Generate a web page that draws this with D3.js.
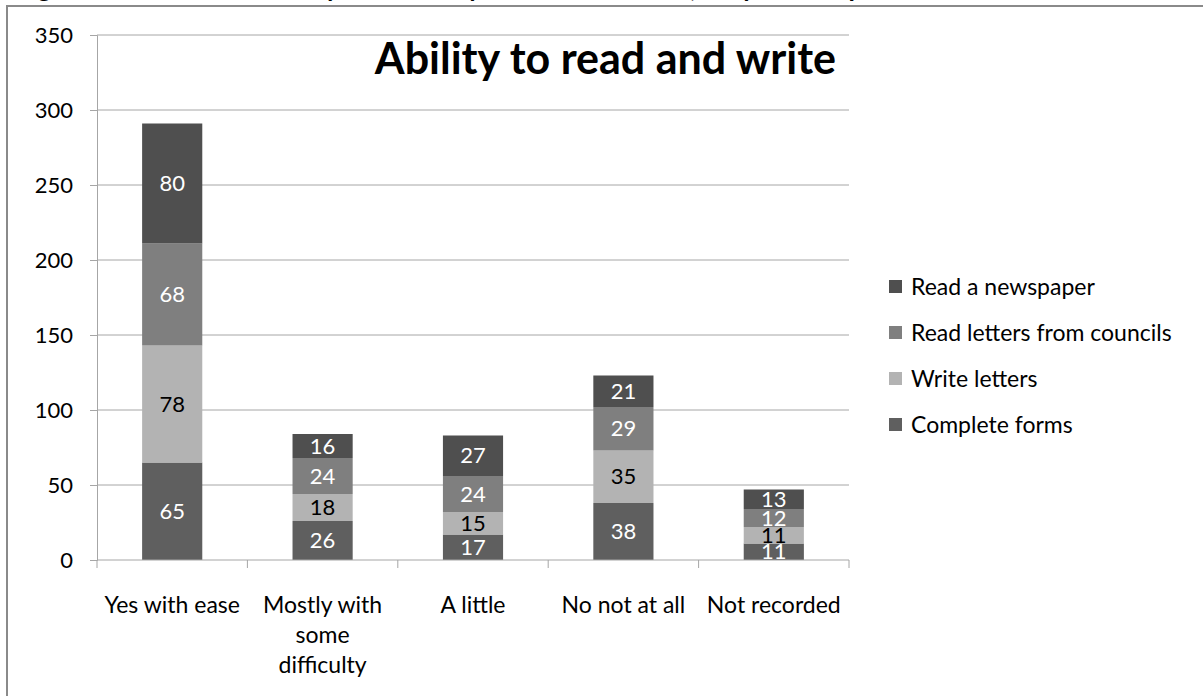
<!DOCTYPE html>
<html>
<head>
<meta charset="utf-8">
<script src="https://cdn.jsdelivr.net/npm/d3@7"></script>
<style>
  html, body { margin: 0; padding: 0; background: #fff; }
  svg { display: block; font-family: Lato, "Open Sans", sans-serif; }
</style>
</head>
<body>
<svg id="chart" width="1203" height="696"></svg>
<script>
// ---- Data ----
const categories = ["Yes with ease", "Mostly with some difficulty", "A little", "No not at all", "Not recorded"];
const categoryLines = [["Yes with ease"], ["Mostly with", "some", "difficulty"], ["A little"], ["No not at all"], ["Not recorded"]];
const seriesNames = ["Complete forms", "Write letters", "Read letters from councils", "Read a newspaper"];
const completeForms = [65, 26, 17, 38, 11];
const writeLetters = [78, 18, 15, 35, 11];
const readLetters = [68, 24, 24, 29, 12];
const readNewspaper = [80, 16, 27, 21, 13];
const yTicks = [0, 50, 100, 150, 200, 250, 300, 350];
const chartTitle = "Ability to read and write";
const figureCaption = "Figure 8: Literacy ability of clients, by sample";

// ---- Styles ----
const colors = {
  "Complete forms": "#5f5f5f",
  "Write letters": "#b3b3b3",
  "Read letters from councils": "#7f7f7f",
  "Read a newspaper": "#4f4f4f"
};
const labelColors = {
  "Complete forms": "#fff",
  "Write letters": "#000",
  "Read letters from councils": "#fff",
  "Read a newspaper": "#fff"
};

const svg = d3.select("#chart");

// clipped caption at very top (only descenders visible)
svg.append("text")
  .attr("x", 0).attr("y", -3)
  .attr("font-size", 26).attr("font-weight", "bold")
  .attr("fill", "#000")
  .attr("textLength", 900)
  .text(figureCaption);

// outer frame
svg.append("rect")
  .attr("x", 7).attr("y", 6)
  .attr("width", 1220).attr("height", 720)
  .attr("fill", "#fff")
  .attr("stroke", "#8a8a8a").attr("stroke-width", 2);

const plot = { left: 97, right: 849, top: 35, bottom: 560 };

const x = d3.scaleBand().domain(categories).range([plot.left, plot.right]).paddingInner(0.6).paddingOuter(0.3);
const xCat = d3.scaleBand().domain(categories).range([plot.left, plot.right]);
const y = d3.scaleLinear().domain([0, 350]).range([plot.bottom, plot.top]);

// gridlines
svg.append("g")
  .selectAll("line").data(yTicks.filter(d => d > 0)).join("line")
  .attr("x1", plot.left).attr("x2", plot.right)
  .attr("y1", d => y(d)).attr("y2", d => y(d))
  .attr("stroke", "#a6a6a6").attr("stroke-width", 1);

// y axis
const yAxis = svg.append("g")
  .attr("transform", `translate(${plot.left},0)`)
  .call(d3.axisLeft(y).tickValues(yTicks).tickSize(7).tickPadding(17).tickFormat(d3.format("d")));
yAxis.select(".domain").attr("stroke", "#a6a6a6");
yAxis.selectAll(".tick line").attr("stroke", "#a6a6a6");
yAxis.selectAll(".tick text").attr("font-size", 22).attr("fill", "#000").attr("font-family", "Lato, sans-serif");

// stacked data
const rows = categories.map((c, i) => ({
  category: c,
  "Complete forms": completeForms[i],
  "Write letters": writeLetters[i],
  "Read letters from councils": readLetters[i],
  "Read a newspaper": readNewspaper[i]
}));
const stacked = d3.stack().keys(seriesNames)(rows);

const groups = svg.append("g").selectAll("g").data(stacked).join("g")
  .attr("fill", s => colors[s.key]);
groups.selectAll("rect").data(s => s.map(d => ({ d, key: s.key }))).join("rect")
  .attr("x", o => x(o.d.data.category))
  .attr("width", x.bandwidth())
  .attr("y", o => y(o.d[1]))
  .attr("height", o => y(o.d[0]) - y(o.d[1]));

// labels
const lbl = svg.append("g");
stacked.forEach(s => {
  s.forEach(d => {
    lbl.append("text")
      .attr("x", x(d.data.category) + x.bandwidth() / 2)
      .attr("y", (y(d[0]) + y(d[1])) / 2)
      .attr("dy", "0.35em")
      .attr("text-anchor", "middle")
      .attr("font-size", 22)
      .attr("fill", labelColors[s.key])
      .text(d.data[s.key]);
  });
});

// x axis
const xAxis = svg.append("g")
  .attr("transform", `translate(0,${plot.bottom})`);
xAxis.append("line")
  .attr("x1", plot.left).attr("x2", plot.right)
  .attr("y1", 0).attr("y2", 0)
  .attr("stroke", "#a6a6a6");
const tickXs = categories.map(c => xCat(c)).concat([plot.right]);
xAxis.selectAll("line.tk").data(tickXs).join("line")
  .attr("class", "tk")
  .attr("x1", d => d).attr("x2", d => d)
  .attr("y1", 0).attr("y2", 8)
  .attr("stroke", "#a6a6a6");
categories.forEach((c, i) => {
  const t = xAxis.append("text")
    .attr("x", xCat(c) + xCat.bandwidth() / 2)
    .attr("y", 53)
    .attr("text-anchor", "middle")
    .attr("font-size", 23)
    .attr("fill", "#000");
  categoryLines[i].forEach((ln, j) => {
    t.append("tspan").attr("x", xCat(c) + xCat.bandwidth() / 2).attr("dy", j === 0 ? 0 : 30).text(ln);
  });
});

// chart title
svg.append("text")
  .attr("x", 836).attr("y", 74)
  .attr("text-anchor", "end")
  .attr("font-size", 43).attr("font-weight", "bold")
  .attr("fill", "#000")
  .text(chartTitle);

// legend
const legendOrder = ["Read a newspaper", "Read letters from councils", "Write letters", "Complete forms"];
const lg = svg.append("g").attr("transform", "translate(889,287)");
legendOrder.forEach((k, i) => {
  const g = lg.append("g").attr("transform", `translate(0,${i * 46})`);
  g.append("rect").attr("x", 0).attr("y", -7).attr("width", 13).attr("height", 13).attr("fill", colors[k]);
  g.append("text").attr("x", 22).attr("y", 0).attr("dy", "0.35em")
    .attr("font-size", 23).attr("fill", "#000").text(k);
});
</script>
</body>
</html>
